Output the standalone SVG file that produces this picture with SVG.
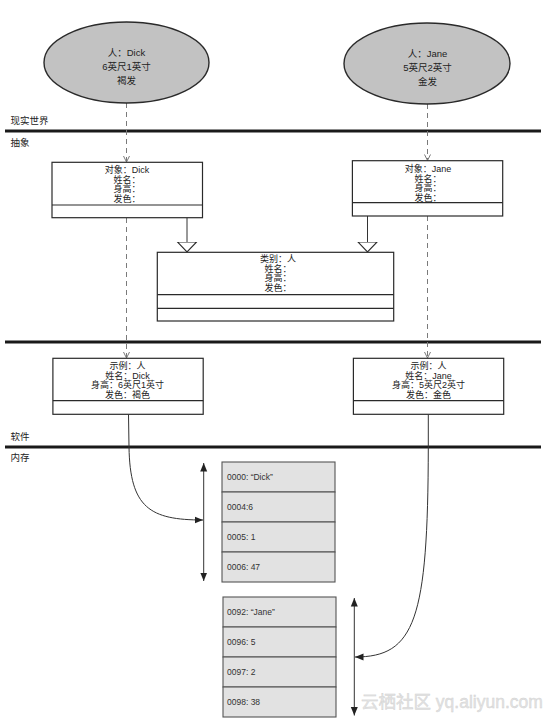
<svg xmlns="http://www.w3.org/2000/svg" width="553" height="722" viewBox="0 0 553 722">
<style>
text{font-family:"Liberation Sans","Noto Sans CJK SC",sans-serif;fill:#222;}
.t{font-size:9px;text-anchor:middle;}
.te{font-size:9.5px;text-anchor:middle;}
.lbl{font-size:9.5px;}
.mem{font-size:8.5px;fill:#333;}
.ell{fill:#c2c2c2;stroke:#2a2a2a;stroke-width:1.4;}
.box{fill:#fff;stroke:#2a2a2a;stroke-width:1.2;}
.div{stroke:#2a2a2a;stroke-width:1.2;}
.mbox{fill:#e2e2e2;stroke:#555;stroke-width:1.1;}
.thick{stroke:#1a1a1a;stroke-width:3;}
.dash{stroke:#7a7a7a;stroke-width:1;stroke-dasharray:5,4;fill:none;marker-end:url(#open);}
.solid{stroke:#333;stroke-width:1;fill:none;}
.wm{font-size:17.5px;fill:#e4e4e4;stroke:#d0d0d0;stroke-width:0.4;}
</style>
<defs>
<marker id="open" markerUnits="userSpaceOnUse" markerWidth="8" markerHeight="8" viewBox="0 0 8 8" refX="6.5" refY="4" orient="auto">
<path d="M0.5,1 L6.5,4 L0.5,7" fill="none" stroke="#7a7a7a" stroke-width="1"/>
</marker>
<marker id="fill" markerUnits="userSpaceOnUse" markerWidth="9" markerHeight="8" viewBox="0 0 9 8" refX="8.5" refY="4" orient="auto-start-reverse">
<path d="M0,0.5 L8.5,4 L0,7.5 Z" fill="#222"/>
</marker>
<marker id="gen" markerUnits="userSpaceOnUse" markerWidth="12" markerHeight="22" viewBox="0 -11 12 22" refX="10.5" refY="0" orient="auto">
<path d="M0.5,-9.5 L10.5,0 L0.5,9.5 Z" fill="#fff" stroke="#2a2a2a" stroke-width="1.1"/>
</marker>
</defs>
<rect width="553" height="722" fill="#fff"/>

<g id="layers">
<line class="thick" x1="5" y1="131" x2="541" y2="131"/>
<line class="thick" x1="5" y1="342" x2="541" y2="342"/>
<line class="thick" x1="5" y1="447" x2="541" y2="447"/>
<text class="lbl" x="10.5" y="124">现实世界</text>
<text class="lbl" x="10.5" y="146">抽象</text>
<text class="lbl" x="10.5" y="439.5">软件</text>
<text class="lbl" x="10.5" y="460.5">内存</text>
</g>

<g id="connectors">
<line class="dash" x1="126.5" y1="103" x2="126.5" y2="162"/>
<line class="dash" x1="126.5" y1="218" x2="126.5" y2="358"/>
<line class="dash" x1="427.5" y1="104" x2="427.5" y2="160.5"/>
<line class="dash" x1="427.5" y1="216" x2="427.5" y2="358"/>
<line class="solid" x1="187" y1="218" x2="187" y2="252" marker-end="url(#gen)"/>
<line class="solid" x1="367.5" y1="216" x2="367.5" y2="252" marker-end="url(#gen)"/>
<path class="solid" d="M128.5,414.5 L129,447 C130,508 150,520 203,520" marker-end="url(#fill)"/>
<path class="solid" d="M428.3,414.5 L428.3,447 C428,620 415,657 355,657" marker-end="url(#fill)"/>
<line class="solid" x1="203.7" y1="463" x2="203.7" y2="581" marker-start="url(#fill)" marker-end="url(#fill)"/>
<line class="solid" x1="354.3" y1="598" x2="354.3" y2="715.5" marker-start="url(#fill)" marker-end="url(#fill)"/>
</g>

<g id="person-dick">
<ellipse class="ell" cx="126.5" cy="62.5" rx="82.5" ry="40.5"/>
<text class="te" x="126.5" y="56">人：Dick</text>
<text class="te" x="126.5" y="69.5">6英尺1英寸</text>
<text class="te" x="126.5" y="83.5">褐发</text>
</g>

<g id="person-jane">
<ellipse class="ell" cx="427" cy="63.5" rx="83" ry="40.5"/>
<text class="te" x="427.5" y="57">人：Jane</text>
<text class="te" x="427.5" y="70.5">5英尺2英寸</text>
<text class="te" x="427.5" y="84.5">金发</text>
</g>

<g id="object-dick">
<rect class="box" x="52" y="162.3" width="150.5" height="55.4"/>
<line class="div" x1="52" y1="205" x2="202.5" y2="205"/>
<text class="t" x="127" y="173.3">对象：Dick</text>
<text class="t" x="127" y="182.8">姓名：</text>
<text class="t" x="127" y="192.3">身高：</text>
<text class="t" x="127" y="201.8">发色：</text>
</g>

<g id="object-jane">
<rect class="box" x="352.4" y="160.7" width="150.3" height="55.3"/>
<line class="div" x1="352.4" y1="202.7" x2="502.7" y2="202.7"/>
<text class="t" x="428" y="172.3">对象：Jane</text>
<text class="t" x="428" y="181.8">姓名：</text>
<text class="t" x="428" y="191.3">身高：</text>
<text class="t" x="428" y="200.8">发色：</text>
</g>

<g id="class-person">
<rect class="box" x="157.3" y="252.3" width="236.4" height="68.7"/>
<line class="div" x1="157.3" y1="294.7" x2="393.7" y2="294.7"/>
<line class="div" x1="157.3" y1="308.3" x2="393.7" y2="308.3"/>
<text class="t" x="278" y="262.3">类别：人</text>
<text class="t" x="278" y="271.8">姓名：</text>
<text class="t" x="278" y="281.3">身高：</text>
<text class="t" x="278" y="290.8">发色：</text>
</g>

<g id="instance-dick">
<rect class="box" x="52.9" y="358.3" width="150.3" height="56"/>
<line class="div" x1="52.9" y1="400.7" x2="203.2" y2="400.7"/>
<text class="t" x="127.5" y="369">示例：人</text>
<text class="t" x="127.5" y="378.5">姓名：Dick</text>
<text class="t" x="127.5" y="388">身高：6英尺1英寸</text>
<text class="t" x="127.5" y="397.5">发色：褐色</text>
</g>

<g id="instance-jane">
<rect class="box" x="353.4" y="358.3" width="150.3" height="56"/>
<line class="div" x1="353.4" y1="400.7" x2="503.7" y2="400.7"/>
<text class="t" x="428.5" y="369">示例：人</text>
<text class="t" x="428.5" y="378.5">姓名：Jane</text>
<text class="t" x="428.5" y="388">身高：5英尺2英寸</text>
<text class="t" x="428.5" y="397.5">发色：金色</text>
</g>

<g id="memory-dick">
<rect class="mbox" x="222" y="462" width="113" height="30"/>
<rect class="mbox" x="222" y="492" width="113" height="30"/>
<rect class="mbox" x="222" y="522" width="113" height="30"/>
<rect class="mbox" x="222" y="552" width="113" height="30"/>
<text class="mem" x="227" y="479.5">0000: “Dick”</text>
<text class="mem" x="227" y="509.5">0004:6</text>
<text class="mem" x="227" y="539.5">0005: 1</text>
<text class="mem" x="227" y="569.5">0006: 47</text>
</g>

<g id="memory-jane">
<rect class="mbox" x="223" y="597" width="113" height="30"/>
<rect class="mbox" x="223" y="627" width="113" height="30"/>
<rect class="mbox" x="223" y="657" width="113" height="30"/>
<rect class="mbox" x="223" y="687" width="113" height="30"/>
<text class="mem" x="227" y="614.5">0092: “Jane”</text>
<text class="mem" x="227" y="644.5">0096: 5</text>
<text class="mem" x="227" y="674.5">0097: 2</text>
<text class="mem" x="227" y="704.5">0098: 38</text>
</g>

<text class="wm" x="361" y="708">云栖社区 yq.aliyun.com</text>
</svg>
